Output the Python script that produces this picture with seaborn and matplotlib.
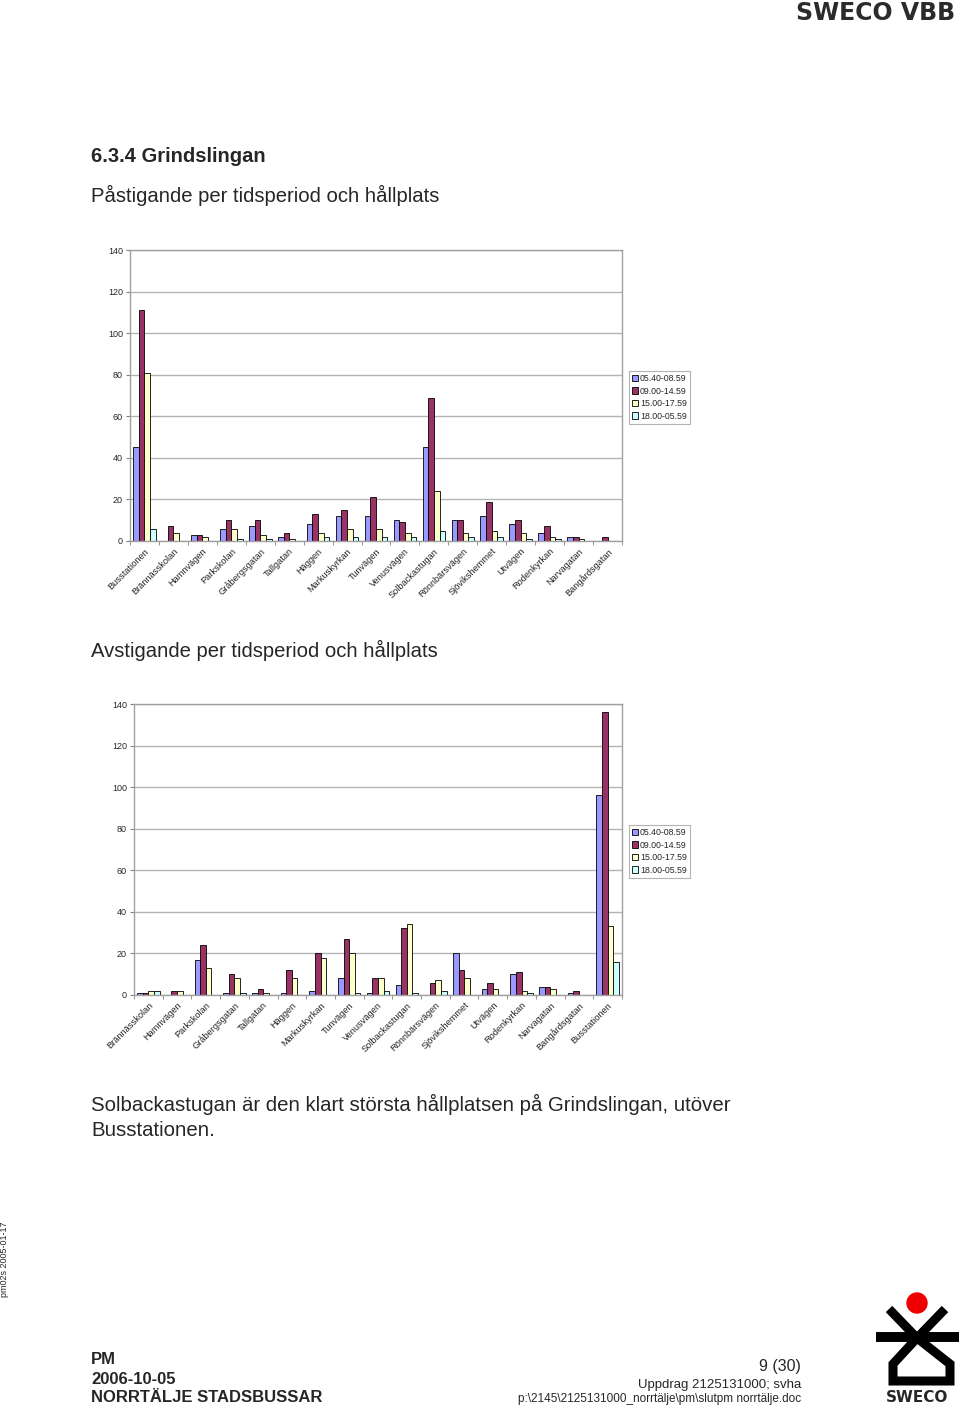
import numpy as np
import pandas as pd
import matplotlib
matplotlib.use("Agg")
import matplotlib.pyplot as plt
import seaborn as sns
from matplotlib.patches import Circle, Polygon
from matplotlib.lines import Line2D

# ---------------- data ----------------
periods = ["05.40-08.59", "09.00-14.59", "15.00-17.59", "18.00-05.59"]
colors = ["#9999FF", "#993366", "#FFFFCC", "#CCFFFF"]

stops_on = ["Busstationen", "Brännässkolan", "Hamnvägen", "Parkskolan", "Gråbergsgatan",
            "Tallgatan", "Häggen", "Markuskyrkan", "Tunvägen", "Venusvägen",
            "Solbackastugan", "Rönnbärsvägen", "Sjövikshemmet", "Utvägen",
            "Rodenkyrkan", "Narvagatan", "Bangårdsgatan"]
on_p1 = [45, 0, 3, 6, 7, 2, 8, 12, 12, 10, 45, 10, 12, 8, 4, 2, 0]
on_p2 = [111, 7, 3, 10, 10, 4, 13, 15, 21, 9, 69, 10, 19, 10, 7, 2, 2]
on_p3 = [81, 4, 2, 6, 3, 1, 4, 6, 6, 4, 24, 4, 5, 4, 2, 1, 0]
on_p4 = [6, 0, 0, 1, 1, 0, 2, 2, 2, 2, 5, 2, 2, 1, 1, 0, 0]

stops_off = ["Brännässkolan", "Hamnvägen", "Parkskolan", "Gråbergsgatan", "Tallgatan",
             "Häggen", "Markuskyrkan", "Tunvägen", "Venusvägen", "Solbackastugan",
             "Rönnbärsvägen", "Sjövikshemmet", "Utvägen", "Rodenkyrkan",
             "Narvagatan", "Bangårdsgatan", "Busstationen"]
off_p1 = [1, 0, 17, 1, 1, 1, 2, 8, 1, 5, 0, 20, 3, 10, 4, 1, 96]
off_p2 = [1, 2, 24, 10, 3, 12, 20, 27, 8, 32, 6, 12, 6, 11, 4, 2, 136]
off_p3 = [2, 2, 13, 8, 1, 8, 18, 20, 8, 34, 7, 8, 3, 2, 3, 0, 33]
off_p4 = [2, 0, 0, 1, 0, 0, 0, 1, 2, 1, 2, 0, 0, 1, 0, 0, 16]

yticks = [0, 20, 40, 60, 80, 100, 120, 140]


def long_df(stops, series):
    rows = []
    for per, vals in zip(periods, series):
        for s, v in zip(stops, vals):
            rows.append({"stop": s, "period": per, "value": v})
    return pd.DataFrame(rows)


df_on = long_df(stops_on, [on_p1, on_p2, on_p3, on_p4])
df_off = long_df(stops_off, [off_p1, off_p2, off_p3, off_p4])

# ---------------- style ----------------
sns.set_style("white")
plt.rcParams["font.family"] = ["Liberation Sans", "DejaVu Sans"]

W, H = 960, 1406
fig = plt.figure(figsize=(W / 100, H / 100), dpi=100)
fig.patch.set_facecolor("white")


def px_axes(left, top, right, bottom):
    return fig.add_axes([left / W, 1 - bottom / H, (right - left) / W, (bottom - top) / H])


palette = dict(zip(periods, colors))


def draw_chart(ax, df, stops, legend_xy):
    sns.barplot(data=df, x="stop", y="value", hue="period", order=stops,
                hue_order=periods, palette=palette, edgecolor="black",
                linewidth=0.6, width=0.78, errorbar=None, ax=ax, saturation=1)
    ax.set_ylim(0, 140)
    ax.set_xlim(-0.5, len(stops) - 0.5)
    ax.set_yticks(yticks)
    ax.set_yticklabels([str(t) for t in yticks], fontsize=6.5)
    ax.yaxis.grid(True, color="#b4b4b4", linewidth=1.0)
    ax.set_axisbelow(True)
    for sp in ax.spines.values():
        sp.set_visible(True)
        sp.set_color("#a0a0a0")
        sp.set_linewidth(1.0)
    ax.set_xlabel("")
    ax.set_ylabel("")
    ax.set_xticks(range(len(stops)))
    ax.set_xticklabels(stops, rotation=45, ha="right", rotation_mode="anchor", fontsize=6.7)
    ax.set_xticks(np.arange(-0.5, len(stops), 1), minor=True)
    ax.tick_params(axis="x", which="major", length=0, pad=4)
    ax.tick_params(axis="x", which="minor", length=3, color="#808080", direction="out")
    ax.tick_params(axis="y", which="major", length=3, color="#808080", direction="out", pad=2)
    ax.tick_params(bottom=True, left=True, which="both")
    handles, labels = ax.get_legend_handles_labels()
    if ax.get_legend() is not None:
        ax.get_legend().remove()
    leg = fig.legend(handles, labels, loc="upper left",
                     bbox_to_anchor=(legend_xy[0] / W, 1 - legend_xy[1] / H),
                     fontsize=6.3, handlelength=0.7, handleheight=0.7,
                     handletextpad=0.2, borderpad=0.35, labelspacing=0.4,
                     fancybox=False, frameon=True, borderaxespad=0)
    leg.get_frame().set_edgecolor("#a0a0a0")
    leg.get_frame().set_linewidth(0.8)


ax1 = px_axes(130, 250, 622, 541)
draw_chart(ax1, df_on, stops_on, (629, 371))

ax2 = px_axes(134, 704, 622, 995)
draw_chart(ax2, df_off, stops_off, (629, 825))

# ---------------- page text & logo overlay ----------------
ov = fig.add_axes([0, 0, 1, 1])
ov.set_xlim(0, W)
ov.set_ylim(H, 0)
ov.axis("off")

ov.text(955, 13, "SWECO VBB", ha="right", va="center", fontsize=17, fontweight="bold",
        color="#2b2b2b", family=["DejaVu Sans"])
ov.text(91, 156, "6.3.4 Grindslingan", ha="left", va="center", fontsize=14.5, fontweight="bold")
ov.text(91, 195, "Påstigande per tidsperiod och hållplats", ha="left", va="center", fontsize=14.6)
ov.text(91, 650, "Avstigande per tidsperiod och hållplats", ha="left", va="center", fontsize=14.6)
ov.text(91, 1104, "Solbackastugan är den klart största hållplatsen på Grindslingan, utöver",
        ha="left", va="center", fontsize=14.7)
ov.text(91, 1130, "Busstationen.", ha="left", va="center", fontsize=14.7)

ov.text(5, 1259, "pm02s 2005-01-17", ha="center", va="center", rotation=90, fontsize=6.5)

ov.text(91, 1360, "PM", ha="left", va="center", fontsize=12, fontweight="bold")
ov.text(91, 1379, "2006-10-05", ha="left", va="center", fontsize=12, fontweight="bold")
ov.text(91, 1398, "NORRTÄLJE STADSBUSSAR", ha="left", va="center", fontsize=12, fontweight="bold")

ov.text(801, 1366, "9 (30)", ha="right", va="center", fontsize=11.5)
ov.text(801, 1385, "Uppdrag 2125131000; svha", ha="right", va="center", fontsize=9.5)
ov.text(801, 1399, "p:\\2145\\2125131000_norrtälje\\pm\\slutpm norrtälje.doc",
        ha="right", va="center", fontsize=8.5)

# SWECO logo
lw = 6.5
ov.add_patch(Circle((917, 1303), 10, color="#ee0000", zorder=5))
ov.add_line(Line2D([889, 917], [1309, 1338], color="black", linewidth=lw, solid_capstyle="butt"))
ov.add_line(Line2D([945, 917], [1309, 1338], color="black", linewidth=lw, solid_capstyle="butt"))
ov.add_line(Line2D([876, 959], [1337, 1337], color="black", linewidth=lw * 1.1, solid_capstyle="butt"))
ov.add_patch(Polygon([[917, 1338], [893, 1364], [893, 1381], [950, 1381], [950, 1364]],
                     closed=True, fill=False, edgecolor="black", linewidth=lw, joinstyle="miter"))
ov.text(917, 1397, "SWECO", ha="center", va="center", fontsize=11, fontweight="bold",
        family=["DejaVu Sans"])

fig.savefig("out.png", dpi=100, facecolor="white")
